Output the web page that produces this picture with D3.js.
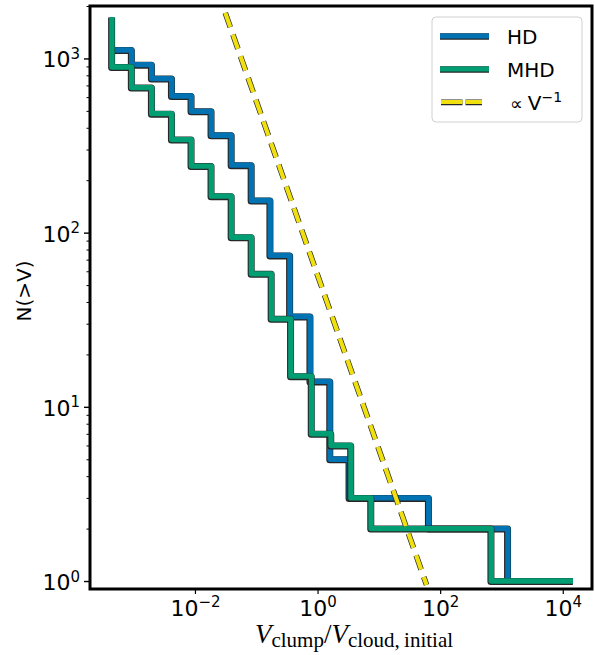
<!DOCTYPE html>
<html>
<head>
<meta charset="utf-8">
<script src="https://cdn.jsdelivr.net/npm/d3@7"></script>
<style>
  body { margin: 0; background: #fff; }
  svg { font-family: "DejaVu Sans", sans-serif; }
</style>
</head>
<body>
<div id="chart"></div>
<script>
// step edges (V_clump / V_cloud,initial) and cumulative counts N(>V)
const hdV = [4.42e-4, 9.27e-4, 1.97e-3, 4.18e-3, 8.73e-3, 1.85e-2, 3.94e-2, 8.35e-2,
             0.169, 0.354, 0.760, 1.60, 3.30, 65.1, 1272, 14680];
const hdN = [1117, 1117, 921, 766, 609, 497, 362, 244, 153, 74, 33, 14, 5, 3, 2, 1];

const mhdV = [4.42e-4, 9.27e-4, 1.97e-3, 4.18e-3, 8.73e-3, 1.85e-2, 3.94e-2, 8.35e-2,
              0.177, 0.367, 0.798, 1.66, 3.51, 7.46, 681, 14680];
const mhdN = [1729, 893, 680, 482, 342, 241, 162, 94, 58, 32, 15, 7, 6, 3, 2, 1];

// reference power law N = A / V
const powA = 57;
const powV = [1e-3, 60];

const xTicks = [1e-2, 1e0, 1e2, 1e4];
const yTicks = [1e0, 1e1, 1e2, 1e3];

const colors = { hd: "#0173b2", mhd: "#029e73", pow: "#f0e010", edge: "#262626" };

const W = 595, H = 655;
const padL = 90, padR = 592, padT = 6, padB = 589;

const svg = d3.select("#chart").append("svg")
    .attr("width", W)
    .attr("height", H);

const x = d3.scaleLog().domain([1.94e-4, 3.0e4]).range([padL, padR]);
const y = d3.scaleLog().domain([0.9, 2000]).range([padB, padT]);

svg.append("clipPath").attr("id", "clip")
  .append("rect")
    .attr("x", padL).attr("y", padT)
    .attr("width", padR - padL).attr("height", padB - padT);

const plot = svg.append("g").attr("clip-path", "url(#clip)");

const line = d3.line()
    .x(d => x(d[0]))
    .y(d => y(d[1]))
    .curve(d3.curveStepBefore);

function drawStep(vs, ns, color) {
  const pts = vs.map((v, i) => [v, ns[i]]);
  plot.append("path")
      .datum(pts)
      .attr("fill", "none")
      .attr("stroke", colors.edge)
      .attr("stroke-width", 7)
      .attr("stroke-linejoin", "round")
      .attr("transform", "translate(-0.3,0.5)")
      .attr("d", line);
  plot.append("path")
      .datum(pts)
      .attr("fill", "none")
      .attr("stroke", color)
      .attr("stroke-width", 5.4)
      .attr("stroke-linejoin", "round")
      .attr("d", line);
}

drawStep(hdV, hdN, colors.hd);
drawStep(mhdV, mhdN, colors.mhd);

// power law dashed line
const powLine = d3.line().x(d => x(d)).y(d => y(powA / d));
plot.append("path")
    .datum(powV)
    .attr("fill", "none")
    .attr("stroke", colors.edge)
    .attr("stroke-width", 5.6)
    .attr("stroke-dasharray", "15,8")
    .attr("d", powLine);
plot.append("path")
    .datum(powV)
    .attr("fill", "none")
    .attr("stroke", colors.pow)
    .attr("stroke-width", 4.2)
    .attr("stroke-dasharray", "15,8")
    .attr("d", powLine);

// minor y ticks
const yMinor = [];
[1, 10, 100, 1000].forEach(dec => {
  for (let k = 2; k <= 9; k++) if (dec * k <= 2000) yMinor.push(dec * k);
});
svg.append("g")
    .attr("transform", "translate(" + padL + ",0)")
    .call(d3.axisLeft(y).tickValues(yMinor).tickSize(3.5).tickFormat(""))
    .call(g => g.select(".domain").remove())
    .call(g => g.selectAll("line").attr("stroke-width", 1));

// major y ticks
const yAxis = svg.append("g")
    .attr("transform", "translate(" + padL + ",0)")
    .call(d3.axisLeft(y).tickValues(yTicks).tickSize(6).tickPadding(4).tickFormat(""));
yAxis.select(".domain").remove();
yAxis.selectAll("line").attr("stroke-width", 1.4);
yAxis.selectAll(".tick text").each(function(d) {
  const t = d3.select(this)
      .attr("font-size", 22)
      .attr("font-family", "DejaVu Sans")
      .attr("dy", "0.38em")
      .attr("fill", "#000");
  t.append("tspan").text("10");
  t.append("tspan").attr("dy", "-0.55em").attr("font-size", 15).text(Math.round(Math.log10(d)));
});

// x ticks
const xAxis = svg.append("g")
    .attr("transform", "translate(0," + padB + ")")
    .call(d3.axisBottom(x).tickValues(xTicks).tickSize(5).tickPadding(6).tickFormat(""));
xAxis.select(".domain").remove();
xAxis.selectAll("line").attr("stroke-width", 1.2);
xAxis.selectAll(".tick text").each(function(d) {
  const t = d3.select(this)
      .attr("font-size", 22)
      .attr("font-family", "DejaVu Sans")
      .attr("dy", "0.71em")
      .attr("fill", "#000");
  t.append("tspan").text("10");
  const e = Math.round(Math.log10(d));
  t.append("tspan").attr("dy", "-0.55em").attr("font-size", 15)
      .text(e < 0 ? "\u2212" + (-e) : e);
});

// frame
svg.append("rect")
    .attr("x", padL).attr("y", padT)
    .attr("width", padR - padL).attr("height", padB - padT)
    .attr("fill", "none")
    .attr("stroke", "#000")
    .attr("stroke-width", 3);

// axis labels
svg.append("text")
    .attr("transform", "translate(31," + 291 + ") rotate(-90)")
    .attr("text-anchor", "middle")
    .attr("font-size", 20)
    .text("N(>V)");

const xl = svg.append("text")
    .attr("x", 354)
    .attr("y", 643)
    .attr("text-anchor", "middle")
    .attr("font-family", "'Liberation Serif', serif")
    .attr("font-size", 27);
xl.append("tspan").attr("font-style", "italic").text("V");
xl.append("tspan").attr("font-size", 21).attr("dy", 4).text("clump");
xl.append("tspan").attr("dy", -4).text("/");
xl.append("tspan").attr("font-style", "italic").text("V");
xl.append("tspan").attr("font-size", 21).attr("dy", 4).text("cloud,\u2009initial");

// legend
const lg = svg.append("g");
lg.append("rect")
    .attr("x", 432).attr("y", 17)
    .attr("width", 150).attr("height", 105)
    .attr("rx", 4)
    .attr("fill", "#fff")
    .attr("fill-opacity", 0.85)
    .attr("stroke", "#d0d0d0")
    .attr("stroke-width", 1);

const legItems = [
  { label: "HD", color: colors.hd, y: 36 },
  { label: "MHD", color: colors.mhd, y: 69 }
];
legItems.forEach(it => {
  lg.append("line")
      .attr("x1", 440).attr("x2", 489)
      .attr("y1", it.y + 0.5).attr("y2", it.y + 0.5)
      .attr("stroke", colors.edge).attr("stroke-width", 6.6);
  lg.append("line")
      .attr("x1", 440).attr("x2", 489)
      .attr("y1", it.y).attr("y2", it.y)
      .attr("stroke", it.color).attr("stroke-width", 5.2);
  lg.append("text")
      .attr("x", 507).attr("y", it.y + 7.5)
      .attr("font-size", 20)
      .text(it.label);
});
lg.append("line")
    .attr("x1", 441).attr("x2", 482)
    .attr("y1", 102.4).attr("y2", 102.4)
    .attr("stroke", colors.edge).attr("stroke-width", 5.6)
    .attr("stroke-dasharray", "21.5,3");
lg.append("line")
    .attr("x1", 441).attr("x2", 482)
    .attr("y1", 102).attr("y2", 102)
    .attr("stroke", colors.pow).attr("stroke-width", 4.2)
    .attr("stroke-dasharray", "21.5,3");
const pt = lg.append("text")
    .attr("x", 510).attr("y", 110)
    .attr("font-size", 20);
pt.append("tspan").attr("font-size", 18).text("\u221d");
pt.append("tspan").attr("dx", 5).text("V");
pt.append("tspan").attr("dy", -8).attr("font-size", 14).text("\u22121");
</script>
</body>
</html>
